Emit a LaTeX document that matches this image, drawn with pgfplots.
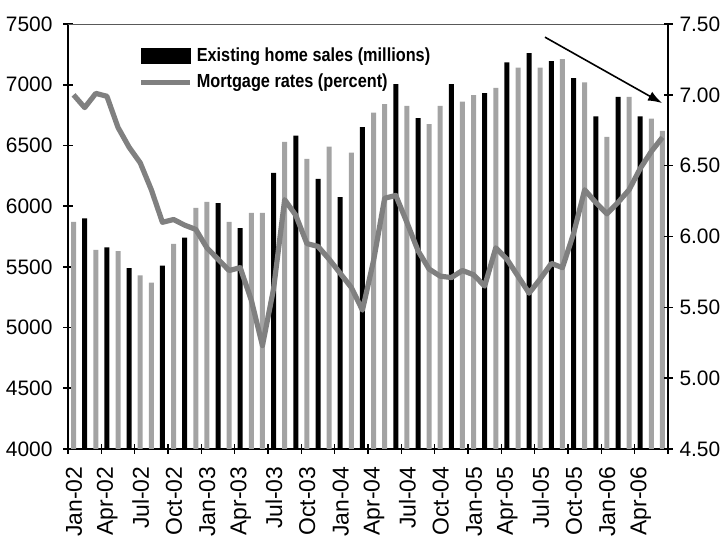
\documentclass[border=0pt]{standalone}
\usepackage{fontspec}
\setmainfont{Liberation Sans}
\newfontfamily\narrowfont[FakeStretch=0.86]{Liberation Sans}
\usepackage{pgfplots}
\usepackage{pgfplotstable}
\pgfplotsset{compat=1.18}
\usetikzlibrary{arrows.meta}

\definecolor{bargray}{HTML}{A3A3A3}
\definecolor{linegray}{HTML}{808080}

% existing home sales, months numbered 1 = Jan-02 ... 54 = Jun-06
% (the scan prints some bars black, the others gray)
\pgfplotstableread{
m sales
2 5900
4 5660
6 5490
9 5510
11 5740
14 6025
16 5820
19 6275
21 6580
23 6225
25 6075
27 6650
30 7005
32 6725
35 7005
38 6930
40 7185
42 7260
44 7195
46 7055
48 6740
50 6900
52 6740
}\blackbars

\pgfplotstableread{
m sales
1 5870
3 5640
5 5630
7 5430
8 5370
10 5690
12 5985
13 6035
15 5870
17 5945
18 5945
20 6530
22 6390
24 6490
26 6440
28 6770
29 6840
31 6825
33 6675
34 6825
36 6860
37 6915
39 6975
41 7140
43 7140
45 7210
47 7020
49 6570
51 6900
53 6720
54 6620
}\graybars

\pgfplotstableread{
m rate
1 7.00
2 6.91
3 7.01
4 6.99
5 6.77
6 6.63
7 6.52
8 6.33
9 6.10
10 6.12
11 6.08
12 6.05
13 5.92
14 5.84
15 5.76
16 5.78
17 5.55
18 5.23
19 5.63
20 6.26
21 6.15
22 5.95
23 5.93
24 5.84
25 5.74
26 5.64
27 5.48
28 5.83
29 6.27
30 6.29
31 6.10
32 5.90
33 5.77
34 5.72
35 5.71
36 5.76
37 5.73
38 5.65
39 5.92
40 5.84
41 5.72
42 5.60
43 5.70
44 5.81
45 5.78
46 6.02
47 6.33
48 6.24
49 6.16
50 6.24
51 6.33
52 6.48
53 6.60
54 6.70
}\rates

\pgfplotsset{
  common/.style={
    scale only axis, width=300bp, height=212.5bp,
    xmin=0.5, xmax=54.5,
    tick align=center, major tick length=4.5bp,
    tick style={black, line width=0.8bp},
    axis line style={black, line width=0.8bp, -},
    ticklabel style={font=\fontsize{10.5}{12}\selectfont},
  },
}

\begin{document}
\begin{tikzpicture}
\begin{axis}[
  common,
  ymin=4000, ymax=7500,
  axis x line*=bottom, axis y line*=left,
  xtick={0.5,3.5,6.5,9.5,12.5,15.5,18.5,21.5,24.5,27.5,30.5,33.5,36.5,39.5,42.5,45.5,48.5,51.5,54.5},
  xticklabels={Jan-02,Apr-02,Jul-02,Oct-02,Jan-03,Apr-03,Jul-03,Oct-03,Jan-04,Apr-04,Jul-04,Oct-04,Jan-05,Apr-05,Jul-05,Oct-05,Jan-06,Apr-06,{}},
  xticklabel style={xshift=3bp, yshift=-3bp, rotate=90, anchor=east, font=\fontsize{11.5}{12}\selectfont},
  ytick={4000,4500,...,7500},
  scaled y ticks=false,
  yticklabel style={xshift=-2bp, /pgf/number format/1000 sep={}, /pgf/number format/assume math mode=true},
]
\addplot[ybar, bar width=0.45, bar shift=0pt, fill=bargray, draw=none] table[x=m, y=sales] {\graybars};
\addplot[ybar, bar width=0.45, bar shift=0pt, fill=black, draw=none] table[x=m, y=sales] {\blackbars};
\draw[black!65, line width=1bp] (rel axis cs:0,1) -- (rel axis cs:1,1);
\draw[-{Latex[length=7bp,width=5bp]}, line width=0.8bp] (rel axis cs:0.795,0.969) -- (rel axis cs:0.99,0.814);
\coordinate (sw) at (rel axis cs:0,0);
\coordinate (ne) at (rel axis cs:1,1);
\end{axis}

\begin{axis}[
  common,
  ymin=4.5, ymax=7.5,
  axis x line=none, axis y line*=right,
  ytick={4.5,5,...,7.5},
  yticklabel style={/pgf/number format/fixed, /pgf/number format/fixed zerofill, /pgf/number format/precision=2, /pgf/number format/assume math mode=true},
  legend style={at={(rel axis cs:0.117,0.955)}, anchor=north west, draw=none, fill=none, inner sep=0pt,
    font=\narrowfont\bfseries\fontsize{9.5}{10.5}\selectfont, row sep=1bp},
  legend cell align=left,
]
\addlegendimage{legend image code/.code={\fill[black] (0bp,-3.75bp) rectangle (24.5bp,3.75bp);}}
\addlegendentry{Existing home sales (millions)}
\addplot[linegray, line width=2.6bp, line join=round, no marks,
  legend image code/.code={\draw[linegray, line width=2.6bp] (0bp,0bp) -- (24.5bp,0bp);}]
  table[x=m, y=rate] {\rates};
\addlegendentry{Mortgage rates (percent)}
\end{axis}
\pgfresetboundingbox
\path ([shift={(-34bp,-46bp)}]sw) rectangle ([shift={(27bp,12bp)}]ne);
\end{tikzpicture}
\end{document}
